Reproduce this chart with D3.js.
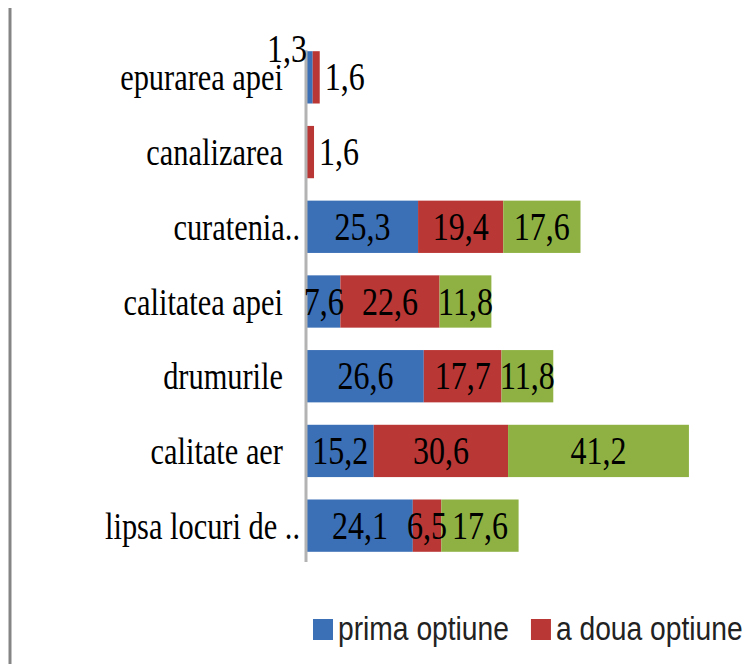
<!DOCTYPE html>
<html>
<head>
<meta charset="utf-8">
<script src="https://cdn.jsdelivr.net/npm/d3@7"></script>
<style>
  body { margin: 0; background: #fff; }
  svg { display: block; }
</style>
</head>
<body>
<div id="chart"></div>
<script>
// categories, top to bottom
const categories = ["epurarea apei", "canalizarea", "curatenia..", "calitatea apei", "drumurile", "calitate aer", "lipsa locuri de .."];
const seriesNames = ["prima optiune", "a doua optiune", "a treia optiune"];
const prima = [1.3, 0, 25.3, 7.6, 26.6, 15.2, 24.1];
const aDoua = [1.6, 1.6, 19.4, 22.6, 17.7, 30.6, 6.5];
const aTreia = [0, 0, 17.6, 11.8, 11.8, 41.2, 17.6];
const colors = ["#3b6fb6", "#b93735", "#8fb143"];

const width = 750, height = 664;
const sx = 0.8; // the picture is squeezed sideways, so text is too

const svg = d3.select("#chart").append("svg")
  .attr("width", width)
  .attr("height", height);

// outer frame line at the left
svg.append("line")
  .attr("x1", 10).attr("x2", 10)
  .attr("y1", 8).attr("y2", height)
  .attr("stroke", "#858585")
  .attr("stroke-width", 3);

const x = d3.scaleLinear().domain([0, 100]).range([307, 746]);
const y = d3.scaleBand().domain(categories).range([40, 563])
  .paddingInner(0.3).paddingOuter(0.15);

// stack the three series
const rows = categories.map((c, i) => ({ cat: c, s0: prima[i], s1: aDoua[i], s2: aTreia[i] }));
const stack = d3.stack().keys(["s0", "s1", "s2"])(rows);

const fmt = v => d3.format(".1f")(v).replace(".", ",");

const layers = svg.selectAll("g.layer")
  .data(stack)
  .enter()
  .append("g")
  .attr("class", "layer")
  .attr("fill", (d, i) => colors[i]);

layers.selectAll("rect")
  .data(d => d)
  .enter()
  .append("rect")
  .attr("x", d => x(d[0]))
  .attr("y", d => y(d.data.cat))
  .attr("width", d => x(d[1]) - x(d[0]))
  .attr("height", y.bandwidth());

// value axis line
svg.append("line")
  .attr("x1", 306).attr("x2", 306)
  .attr("y1", y(categories[0]) - 1)
  .attr("y2", y.range()[1] - 1)
  .attr("stroke", "#b3b3b3")
  .attr("stroke-width", 3);

// category labels
svg.selectAll("text.cat")
  .data(categories)
  .enter()
  .append("text")
  .attr("class", "cat")
  .attr("transform", d => {
    let right = d.endsWith("..") ? 300 : 283;
    return `translate(${right},${y(d) + y.bandwidth() / 2 + 13}) scale(${sx},1)`;
  })
  .attr("text-anchor", "end")
  .attr("font-family", "'Liberation Serif', 'Times New Roman', serif")
  .attr("font-size", 38)
  .attr("fill", "#000")
  .text(d => d);

// data labels
const labels = [];
stack.forEach((layer, si) => {
  layer.forEach(d => {
    const v = d[1] - d[0];
    if (v <= 0) return;
    const cy = y(d.data.cat) + y.bandwidth() / 2;
    let lx, ly, anchor;
    if (v < 3 && si === 0) {
      lx = x(0); ly = y(d.data.cat) + 11; anchor = "end";
    } else if (v < 3) {
      lx = x(d[1]) + 5; ly = cy + 13; anchor = "start";
    } else {
      lx = (x(d[0]) + x(d[1])) / 2; ly = cy + 13; anchor = "middle";
    }
    labels.push({ text: fmt(v), lx, ly, anchor });
  });
});

svg.selectAll("text.val")
  .data(labels)
  .enter()
  .append("text")
  .attr("class", "val")
  .attr("transform", d => `translate(${d.lx},${d.ly}) scale(${sx},1)`)
  .attr("text-anchor", d => d.anchor)
  .attr("font-family", "'Liberation Serif', 'Times New Roman', serif")
  .attr("font-size", 40)
  .attr("fill", "#000")
  .text(d => d.text);

// legend (runs off the right edge, like the original)
const legend = svg.append("g").attr("transform", "translate(313,619)");
let lx = 0;
seriesNames.forEach((name, i) => {
  const g = legend.append("g").attr("transform", `translate(${lx},0)`);
  g.append("rect")
    .attr("width", 20).attr("height", 21)
    .attr("fill", colors[i]);
  const t = g.append("text")
    .attr("transform", `translate(25,21) scale(0.83,1)`)
    .attr("font-family", "'Liberation Sans', Arial, sans-serif")
    .attr("font-size", 34)
    .attr("fill", "#222")
    .text(name);
  lx += 25 + t.node().getComputedTextLength() * 0.83 + 22;
});
</script>
</body>
</html>
